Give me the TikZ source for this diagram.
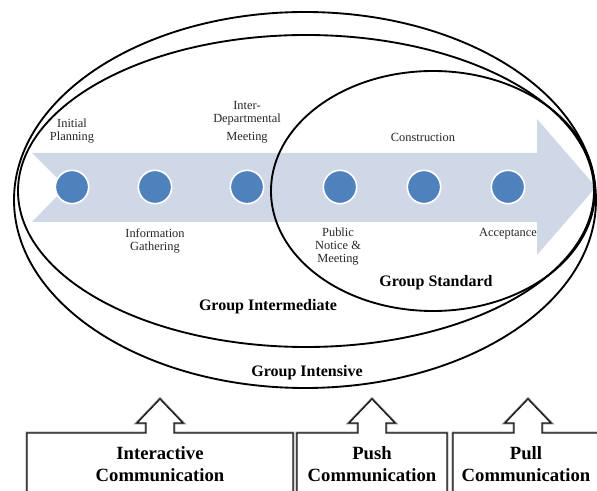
\documentclass[tikz,border=0pt]{standalone}
\usepackage{fontspec}
\setmainfont{Liberation Serif}
\definecolor{bandcol}{HTML}{D0D8E8}
\definecolor{dotblue}{HTML}{4F81BD}
\begin{document}
\begin{tikzpicture}[x=0.75pt,y=-0.75pt,
  dot/.style={circle,fill=dotblue,draw=white,line width=1.2pt,minimum size=25pt,inner sep=0pt},
  lbl/.style={font=\fontsize{9.3}{9.75}\selectfont,align=center,text=black!85,inner sep=0pt},
  grp/.style={font=\fontsize{12}{14}\selectfont\bfseries,inner sep=0pt},
  ring/.style={draw=black,line width=1.4pt},
  callout/.style={preaction={draw=black!45,line width=2.2pt},draw=black!90,line width=1pt,fill=white},
  boxtxt/.style={font=\fontsize{14}{16.5}\selectfont\bfseries,align=center,inner sep=0pt}]
\useasboundingbox (0,0) rectangle (597,491);
\clip (0,0) rectangle (597,491);
% process arrow band
\fill[bandcol] (32,153) -- (537,153) -- (537,119) -- (596,187) -- (537,255)
  -- (537,222) -- (32,222) -- (66,187) -- cycle;
% steps
\node[dot] (c1) at (72,187) {};
\node[dot] (c2) at (155,187) {};
\node[dot] (c3) at (247,187) {};
\node[dot] (c4) at (340,187) {};
\node[dot] (c5) at (424,187) {};
\node[dot] (c6) at (508,187) {};
% labels
\node[lbl] (l1) at (72,131) {Initial\\Planning};
\node[lbl] (l3) at (247,122) {Inter-\\Departmental\\[3.5pt]Meeting};
\node[lbl] (l5) at (423,137) {Construction};
\node[lbl] (l2) at (155,241) {Information\\Gathering};
\node[lbl] (l4) at (338,247) {Public\\Notice \&\\Meeting};
\node[lbl] (l6) at (508,234) {Acceptance};
% groups
\draw[ring] (305,200) ellipse [x radius=291, y radius=188];
\draw[ring] (306,191) ellipse [x radius=288, y radius=156];
\draw[ring] (433,191) ellipse [x radius=162, y radius=120];
\node[grp] (gs) at (436,283) {Group Standard};
\node[grp] (gm) at (268,307) {Group Intermediate};
\node[grp] (gi) at (307,373) {Group Intensive};
% communication callouts
\draw[callout] (27,500) -- (27,433) -- (146,433) -- (146,423) -- (137,423) -- (160,399)
  -- (183,423) -- (174,423) -- (174,433) -- (293,433) -- (293,500) -- cycle;
\draw[callout] (297,500) -- (297,433) -- (358,433) -- (358,423) -- (349,423) -- (372,399)
  -- (395,423) -- (386,423) -- (386,433) -- (447,433) -- (447,500) -- cycle;
\draw[callout] (453,500) -- (453,433) -- (514,433) -- (514,423) -- (505,423) -- (528,399)
  -- (551,423) -- (542,423) -- (542,433) -- (603,433) -- (603,500) -- cycle;
\node[boxtxt] (b1) at (160,464) {Interactive\\Communication};
\node[boxtxt] (b2) at (372,464) {Push\\Communication};
\node[boxtxt] (b3) at (526,464) {Pull\\Communication};
\end{tikzpicture}
\end{document}
